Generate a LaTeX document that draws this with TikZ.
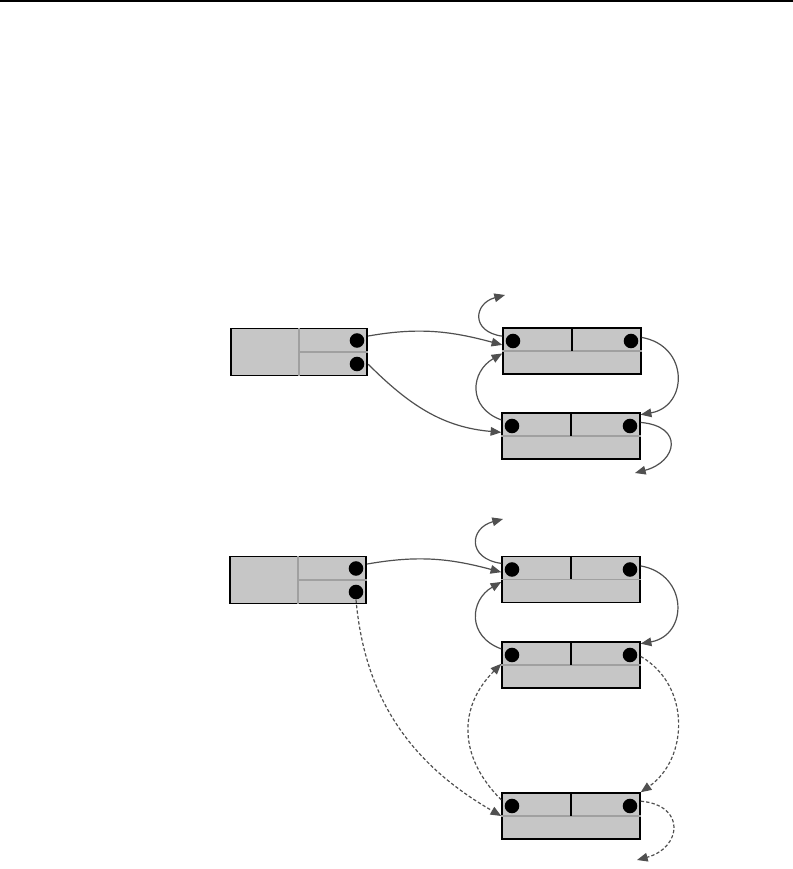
\documentclass[tikz,border=0pt]{standalone}
\usepackage{tikz}
\usetikzlibrary{arrows.meta,calc}
\definecolor{cellgray}{HTML}{C6C6C6}
\definecolor{linegray}{HTML}{A0A0A0}
\definecolor{wire}{HTML}{505050}

\begin{document}
\begin{tikzpicture}[x=0.75pt, y=0.75pt,
    hdr/.style={draw, line width=1.4pt, fill=cellgray, minimum width=102.4pt,
                minimum height=35.3pt, inner sep=0pt},
    cell/.style={draw, line width=1.1pt, fill=cellgray, minimum width=103.5pt,
                 minimum height=34.5pt, inner sep=0pt},
    dot/.style={circle, fill=black, inner sep=0pt, minimum size=10.9pt},
    sep/.style={draw=linegray, line width=0.8pt},
    mid/.style={draw=black, line width=1.1pt},
    link/.style={-{Triangle[length=8pt,width=6.5pt]}, draw=wire, line width=0.9pt},
    weak/.style={link, dash pattern=on 2.5pt off 1.6pt}
  ]
  \useasboundingbox (0,0) rectangle (793,869);
  \draw[line width=1.6pt] (0,868) -- (793,868);

  % upper list
  \node[hdr] (h1) at (299,517) {};
  \node[cell] (a1) at (572,518) {};
  \node[cell] (a2) at (571,433) {};
  % lower list
  \node[hdr] (h2) at (298,289) {};
  \node[cell] (b1) at (571,289.5) {};
  \node[cell] (b2) at (571,204) {};
  \node[cell] (b3) at (571,53) {};

  \foreach \h in {h1,h2}
    \draw[sep] (\h.north) -- (\h.south) (\h.center) -- (\h.east);
  \foreach \c in {a1,a2,b1,b2,b3} {
    \draw[sep] (\c.west) -- (\c.east);
    \draw[mid] (\c.north) -- (\c.center);
  }

  \node[dot] (h1t) at ($(h1)+(58,11.5)$) {};
  \node[dot] (h1b) at ($(h1)+(58,-12)$) {};
  \node[dot] (h2t) at ($(h2)+(58,11.5)$) {};
  \node[dot] (h2b) at ($(h2)+(58,-12)$) {};
  \node[dot] (a1l) at ($(a1)+(-59,10)$) {};
  \node[dot] (a1r) at ($(a1)+(59,10)$) {};
  \node[dot] (a2l) at ($(a2)+(-59,10)$) {};
  \node[dot] (a2r) at ($(a2)+(59,10)$) {};
  \node[dot] (b1l) at ($(b1)+(-59,10)$) {};
  \node[dot] (b1r) at ($(b1)+(59,10)$) {};
  \node[dot] (b2l) at ($(b2)+(-59,10)$) {};
  \node[dot] (b2r) at ($(b2)+(59,10)$) {};
  \node[dot] (b3l) at ($(b3)+(-59,10)$) {};
  \node[dot] (b3r) at ($(b3)+(59,10)$) {};

  \coordinate (a1up) at (505,574);
  \coordinate (a2dn) at (635,396);
  \coordinate (b1up) at (503,350);
  \coordinate (b3dn) at (637,9);

  % upper links
  \draw[link] (h1.13) to[out=10,in=165] (a1.175);
  \draw[link] (h1.-10) to[out=-45,in=175] (a2.177);
  \draw[link] (a1.168) to[out=172,in=195,looseness=2] (a1up);
  \draw[link] (a2.167) to[out=160,in=210,looseness=1.4] (a1.182);
  \draw[link] (a1.11) to[out=-10,in=10,looseness=1.6] (a2.17);
  \draw[link] (a2.11) to[out=-5,in=15,looseness=2.2] (a2dn);

  % lower links
  \draw[link] (b1.167) to[out=172,in=195,looseness=2] (b1up);
  \draw[link] (h2.13) to[out=10,in=165] (b1.174);
  \draw[link] (b2.167) to[out=160,in=210,looseness=1.4] (b1.182);
  \draw[link] (b1.11) to[out=-10,in=10,looseness=1.6] (b2.17);
  \draw[weak] (h2b.south) to[out=-85,in=150] (b3.180);
  \draw[weak] (b3.167) to[out=135,in=225,looseness=1.15] (b2.179);
  \draw[weak] (b2.7) to[out=-30,in=35,looseness=1.1] (b3.north east);
  \draw[weak] (b3.12) to[out=-5,in=15,looseness=2] (b3dn);
\end{tikzpicture}
\end{document}
